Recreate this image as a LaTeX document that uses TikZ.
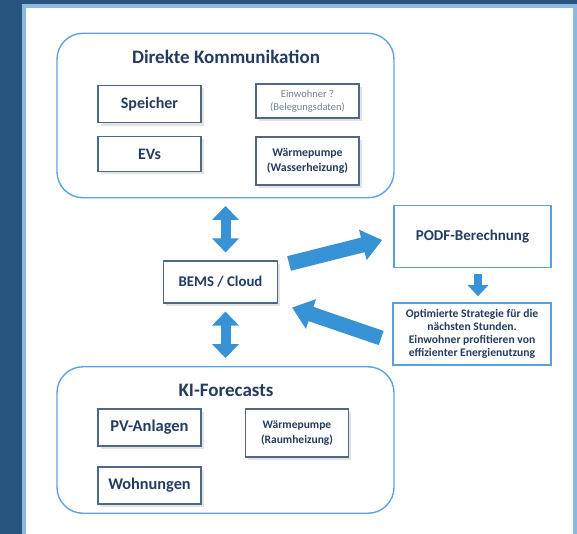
\documentclass[tikz,border=0pt]{standalone}
\usepackage{fontspec}
\setmainfont{Carlito}
\usetikzlibrary{arrows.meta,calc,shadows}

\definecolor{bgdark}{RGB}{40,85,127}
\definecolor{panelrim}{RGB}{143,184,224}
\definecolor{grouprim}{RGB}{95,163,222}
\definecolor{boxrim}{RGB}{80,104,134}
\definecolor{lightrim}{RGB}{90,160,220}
\definecolor{txt}{RGB}{36,60,96}
\definecolor{softtxt}{RGB}{112,128,150}
\definecolor{flow}{RGB}{55,146,214}

\tikzset{
  groupbox/.style={draw=grouprim, line width=1.4pt, rounded corners=26pt, fill=white},
  itembox/.style={draw=boxrim, line width=1.1pt, fill=white, inner sep=0pt, align=center,
    text=txt, font=\bfseries, drop shadow={shadow xshift=2.5pt, shadow yshift=-3pt, opacity=0.18, fill=black!60}},
  flowbox/.style={draw=lightrim, line width=1.6pt, fill=white, inner sep=0pt, align=center,
    text=txt, font=\bfseries},
  grouptitle/.style={text=txt, font=\bfseries},
  dblarrow/.style={draw=flow, line width=10pt,
    {Triangle[length=14pt,width=26pt]}-{Triangle[length=14pt,width=26pt]}},
  fatarrow/.style={draw=flow, line width=15pt, -{Triangle[length=20pt,width=30pt]}},
  downarrow/.style={draw=flow, line width=8pt, -{Triangle[length=11pt,width=20pt]}},
}

\begin{document}
\begin{tikzpicture}[x=1pt,y=-1pt]
  \useasboundingbox (0,0) rectangle (577,534);
  % page background and white panel
  \fill[bgdark] (0,0) rectangle (577,534);
  \fill[white] (24,6) rectangle (575,534);
  \draw[panelrim, line width=4pt] (24,534) -- (24,6) -- (575,6) -- (575,534);

  % group frames
  \node[groupbox, minimum width=337pt, minimum height=164.5pt] (topgrp) at (225.5,115.5) {};
  \node[groupbox, minimum width=337pt, minimum height=146.5pt] (botgrp) at (225.5,440) {};
  \node[grouptitle, font=\bfseries\fontsize{19}{22}\selectfont] (toptitle) at (226,57) {Direkte Kommunikation};
  \node[grouptitle, font=\bfseries\fontsize{19}{22}\selectfont] (bottitle) at (226,390) {KI-Forecasts};

  % direct communication items
  \node[itembox, minimum width=103pt, minimum height=37.5pt, font=\bfseries\fontsize{16}{19}\selectfont] (speicher) at (149.5,104) {Speicher};
  \node[itembox, minimum width=103pt, minimum height=34pt, text=softtxt, font=\fontsize{10.5}{13}\selectfont] (einwohner) at (307.5,101) {Einwohner ?\\(Belegungsdaten)};
  \node[itembox, minimum width=103pt, minimum height=35pt, font=\bfseries\fontsize{16}{19}\selectfont] (evs) at (149.5,154) {EVs};
  \node[itembox, minimum width=103pt, minimum height=48pt, font=\bfseries\fontsize{11.8}{15.5}\selectfont] (wpwasser) at (307.5,161) {Wärmepumpe\\(Wasserheizung)};

  % forecast items
  \node[itembox, minimum width=103pt, minimum height=37pt, font=\bfseries\fontsize{16.5}{19}\selectfont] (pv) at (149.5,427.5) {PV-Anlagen};
  \node[itembox, minimum width=103pt, minimum height=48pt, font=\bfseries\fontsize{11.5}{15}\selectfont] (wpraum) at (297,433) {Wärmepumpe\\(Raumheizung)};
  \node[itembox, minimum width=103pt, minimum height=37pt, font=\bfseries\fontsize{16.3}{19}\selectfont] (wohnungen) at (149.5,485.5) {Wohnungen};

  % central hub and computation boxes
  \node[itembox, minimum width=114pt, minimum height=42pt, font=\bfseries\fontsize{14.8}{18}\selectfont] (bems) at (220.5,282) {BEMS / Cloud};
  \node[flowbox, minimum width=157pt, minimum height=62pt, font=\bfseries\fontsize{15}{18}\selectfont] (podf) at (472.5,236.5) {PODF-Berechnung};
  \node[flowbox, minimum width=158pt, minimum height=62pt, font=\bfseries\fontsize{11.6}{13}\selectfont] (strategie) at (472,334)
    {Optimierte Strategie für die\\nächsten Stunden.\\Einwohner profitieren von\\effizienter Energienutzung};

  % connectors
  \draw[dblarrow, shorten <=7.5pt, shorten >=8pt] (topgrp.south) -- (topgrp.south |- bems.north);
  \draw[dblarrow, shorten <=8pt, shorten >=8pt] (botgrp.north |- bems.south) -- (botgrp.north);
  \coordinate (outstart) at ($(bems.north east)+(11,3)$);
  \coordinate (outend) at ($(podf.west)+(-11,3.5)$);
  \draw[fatarrow] (outstart) -- (outend);
  \coordinate (backstart) at ($(strategie.west)+(-11,4)$);
  \coordinate (backend) at ($(bems.south east)+(14,4)$);
  \draw[fatarrow] (backstart) -- (backend);
  \draw[downarrow, shorten <=5.5pt, shorten >=6pt] (podf.south -| 478,0) -- (strategie.north -| 478,0);
\end{tikzpicture}
\end{document}
